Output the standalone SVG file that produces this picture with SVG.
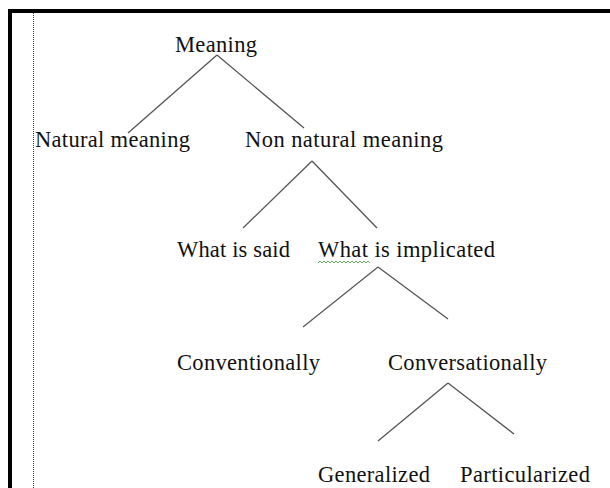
<svg xmlns="http://www.w3.org/2000/svg" width="610" height="488" viewBox="0 0 610 488">
<style>
text{font-family:"Liberation Serif","Times New Roman",serif;font-size:22.5px;fill:#111}
.c line{stroke:#555;stroke-width:1.3}
</style>
<rect width="610" height="488" fill="#fff"/>
<g id="frame">
<rect x="8" y="9" width="602" height="4" fill="#000"/>
<rect x="8" y="9" width="4" height="479" fill="#000"/>
<line x1="33.5" y1="13" x2="33.5" y2="488" stroke="#444" stroke-width="1" stroke-dasharray="1,1"/>
</g>
<g class="c" id="connectors">
<line x1="217" y1="55" x2="128" y2="133"/>
<line x1="217" y1="55" x2="304" y2="128"/>
<line x1="312" y1="161" x2="243" y2="228"/>
<line x1="312" y1="161" x2="377" y2="228"/>
<line x1="378" y1="267" x2="303" y2="327"/>
<line x1="378" y1="267" x2="448" y2="319"/>
<line x1="448" y1="383" x2="378" y2="441"/>
<line x1="448" y1="383" x2="514" y2="434"/>
</g>
<g id="n-meaning"><text x="175" y="52" textLength="82">Meaning</text></g>
<g id="n-natural"><text x="35" y="147" textLength="155">Natural meaning</text></g>
<g id="n-nonnatural"><text x="245" y="147" textLength="198">Non natural meaning</text></g>
<g id="n-said"><text x="177" y="257" textLength="113">What is said</text></g>
<g id="n-implicated"><text x="318" y="257" textLength="177">What is implicated</text>
<path d="M318,263 l2,-2 2,2 2,-2 2,2 2,-2 2,2 2,-2 2,2 2,-2 2,2 2,-2 2,2 2,-2 2,2 2,-2 2,2 2,-2 2,2 2,-2 2,2 2,-2 2,2 2,-2 2,2 2,-2 2,2" fill="none" stroke="#3a9a3a" stroke-width="0.8"/></g>
<g id="n-conventionally"><text x="177" y="370" textLength="143">Conventionally</text></g>
<g id="n-conversationally"><text x="388" y="370" textLength="159">Conversationally</text></g>
<g id="n-generalized"><text x="318" y="482" textLength="112">Generalized</text></g>
<g id="n-particularized"><text x="460" y="482" textLength="130">Particularized</text></g>
</svg>
